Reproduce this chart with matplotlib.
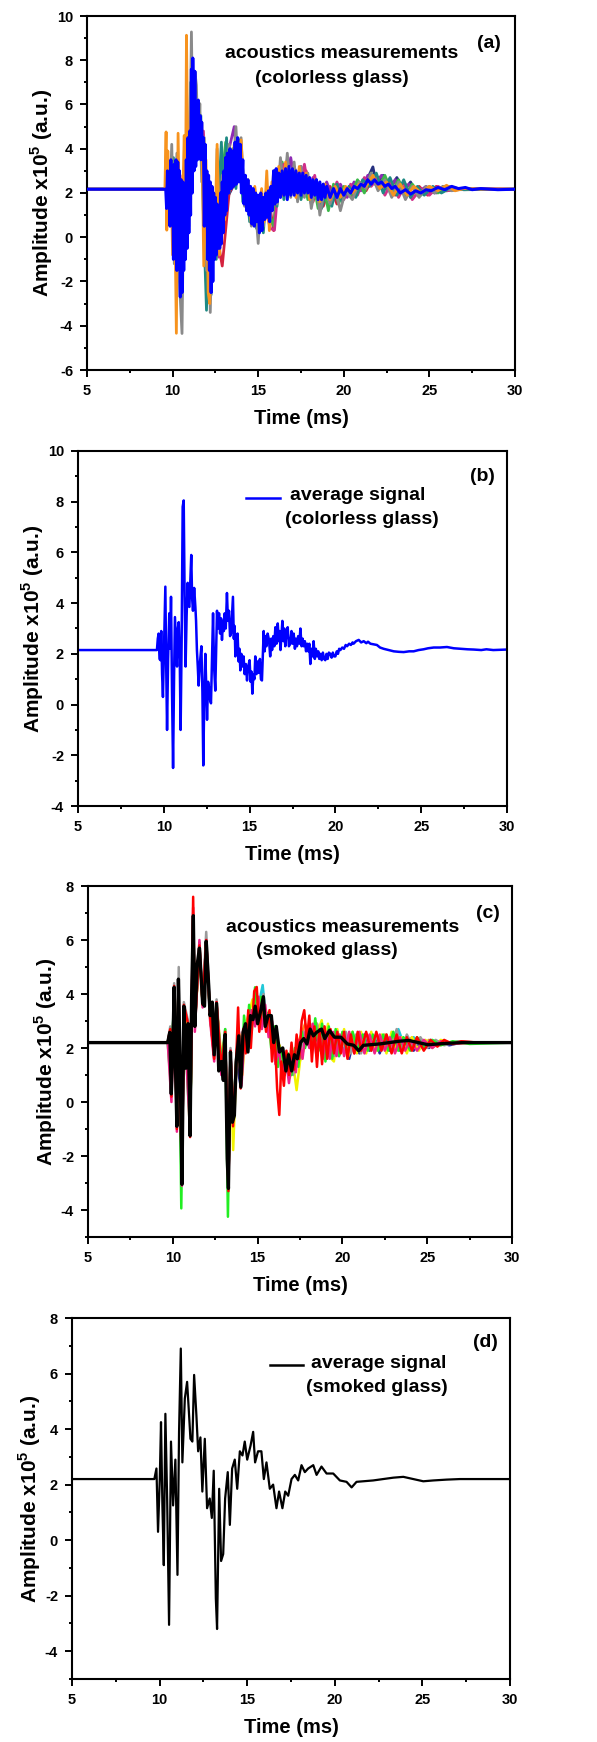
import matplotlib
matplotlib.use("Agg")
import matplotlib.pyplot as plt
from matplotlib.ticker import MultipleLocator
from matplotlib.lines import Line2D

plt.rcParams['font.family'] = ['Liberation Sans', 'DejaVu Sans']
plt.rcParams['font.weight'] = 'bold'
plt.rcParams['mathtext.fontset'] = 'custom'
plt.rcParams['mathtext.rm'] = 'Liberation Sans:bold'
plt.rcParams['mathtext.bf'] = 'Liberation Sans:bold'
plt.rcParams['axes.unicode_minus'] = False

# ---------------- data: (time ms, amplitude x1e5) ----------------
# (b) average signal, colorless glass
avg_colorless = [(5.0, 2.15), (9.60, 2.15), (9.65, 2.6), (9.70, 2.8), (9.75, 1.8), (9.80, 1.75), (9.85, 2.9),
                 (9.90, 1.2), (9.95, 0.3), (10.02, 2.4), (10.09, 4.65), (10.14, 1.5), (10.19, -1.0), (10.25, 1.8),
                 (10.32, 3.6), (10.37, 2.2), (10.42, 4.25), (10.48, 0.5), (10.54, -2.5), (10.60, 1.2),
                 (10.65, 3.45), (10.71, 2.5), (10.77, 1.5), (10.82, 3.0), (10.87, 3.25), (10.93, 1.8),
                 (10.98, -1.0), (11.04, 2.5), (11.10, 7.8), (11.16, 8.05), (11.21, 4.5), (11.27, 1.5),
                 (11.33, 3.5), (11.39, 4.8), (11.44, 3.9), (11.49, 3.85), (11.55, 5.0), (11.60, 5.9),
                 (11.65, 4.2), (11.70, 3.7), (11.77, 4.6), (11.84, 3.85), (11.88, 3.3), (11.93, 2.15),
                 (11.98, 1.5), (12.03, 0.75), (12.10, 1.6), (12.19, 2.3), (12.25, 0.5), (12.30, -2.4),
                 (12.36, 0.3), (12.42, 2.0), (12.47, 0.8), (12.52, -0.6), (12.58, 0.9), (12.63, 0.7),
                 (12.69, 0.2), (12.75, 0.05), (12.81, 1.8), (12.87, 3.6), (12.93, 1.5), (13.00, 0.55),
                 (13.05, 2.2), (13.10, 3.7), (13.16, 3.0), (13.22, 3.6), (13.28, 2.8), (13.34, 3.4),
                 (13.39, 2.55), (13.45, 3.3), (13.50, 2.9), (13.55, 3.6), (13.61, 3.0), (13.68, 4.4),
                 (13.74, 3.3), (13.80, 3.7), (13.86, 2.7), (13.92, 2.8), (13.97, 3.5), (14.03, 4.25),
                 (14.08, 2.6), (14.13, 3.1), (14.17, 1.9), (14.23, 2.6), (14.30, 2.8), (14.36, 1.7),
                 (14.41, 2.2), (14.46, 1.35), (14.52, 2.0), (14.58, 1.5), (14.65, 1.9), (14.71, 1.2),
                 (14.78, 1.6), (14.85, 0.95), (14.92, 1.5), (15.00, 1.75), (15.06, 0.9), (15.11, 1.3),
                 (15.16, 0.43), (15.22, 1.2), (15.28, 1.0), (15.33, 1.9), (15.40, 1.2), (15.47, 1.7),
                 (15.53, 1.25), (15.60, 1.8), (15.66, 1.0), (15.72, 0.95), (15.77, 1.9), (15.82, 2.9),
                 (15.88, 2.1), (15.93, 2.7), (15.98, 2.3), (16.05, 2.8), (16.13, 2.55), (16.20, 1.9),
                 (16.26, 2.6), (16.31, 2.15), (16.38, 2.7), (16.44, 2.3), (16.50, 3.05), (16.57, 2.4),
                 (16.64, 3.2), (16.70, 2.5), (16.75, 2.9), (16.80, 2.15), (16.86, 2.8), (16.91, 3.3),
                 (16.97, 2.5), (17.02, 3.0), (17.08, 2.3), (17.15, 2.9), (17.22, 3.05), (17.29, 2.3),
                 (17.37, 2.4), (17.44, 2.9), (17.50, 2.4), (17.57, 2.8), (17.64, 2.2), (17.70, 2.6),
                 (17.76, 2.3), (17.83, 2.7), (17.90, 2.4), (17.96, 3.0), (18.03, 2.3), (18.09, 2.6),
                 (18.15, 2.3), (18.22, 2.5), (18.29, 2.1), (18.35, 2.4), (18.42, 2.1), (18.48, 2.4),
                 (18.54, 1.6), (18.60, 2.2), (18.67, 1.9), (18.73, 2.5), (18.80, 1.8), (18.86, 2.2),
                 (18.93, 1.9), (19.00, 2.1), (19.06, 1.8), (19.12, 2.0), (19.20, 1.75), (19.27, 2.05),
                 (19.34, 1.8), (19.41, 1.75), (19.48, 2.0), (19.55, 1.8), (19.62, 2.05), (19.70, 2.0),
                 (19.78, 1.85), (19.85, 2.05), (19.92, 1.9), (20.00, 1.9), (20.08, 2.1), (20.15, 2.0),
                 (20.22, 2.2), (20.29, 2.15), (20.40, 2.25), (20.50, 2.2), (20.60, 2.35), (20.68, 2.3),
                 (20.80, 2.4), (20.90, 2.35), (21.00, 2.45), (21.06, 2.4), (21.20, 2.5), (21.36, 2.55),
                 (21.50, 2.45), (21.65, 2.5), (21.80, 2.42), (21.90, 2.48), (22.04, 2.4), (22.20, 2.38),
                 (22.42, 2.35), (22.60, 2.25), (22.81, 2.2), (23.10, 2.15), (23.40, 2.1), (23.70, 2.08),
                 (23.98, 2.07), (24.30, 2.1), (24.56, 2.1), (24.85, 2.15), (25.14, 2.18), (25.40, 2.22),
                 (25.73, 2.25), (26.10, 2.25), (26.50, 2.27), (26.90, 2.22), (27.28, 2.2), (27.70, 2.18),
                 (28.06, 2.17), (28.50, 2.15), (28.80, 2.18), (29.20, 2.15), (30.0, 2.17)]

# (d) average signal, smoked glass
avg_smoked = [(5.0, 2.2), (9.70, 2.2), (9.82, 2.58), (9.91, 0.3), (10.01, 2.2), (10.08, 4.25), (10.16, 1.25),
              (10.24, -0.9), (10.33, 4.55), (10.43, 1.5), (10.54, -3.05), (10.65, 3.55), (10.77, 1.25), (10.90, 2.9),
              (11.02, -1.25), (11.11, 3.9), (11.21, 6.9), (11.30, 2.8), (11.44, 5.1), (11.57, 5.7), (11.66, 4.75),
              (11.76, 3.65), (11.87, 3.55), (11.97, 5.95), (12.10, 4.5), (12.20, 3.2), (12.33, 3.7), (12.44, 1.75),
              (12.58, 3.65), (12.71, 1.15), (12.86, 1.5), (12.98, 0.8), (13.09, 2.5), (13.21, -2.1), (13.28, -3.2),
              (13.40, 1.85), (13.51, -0.75), (13.63, -0.5), (13.74, 1.5), (13.89, 2.45), (14.01, 0.55), (14.14, 2.58),
              (14.29, 2.9), (14.43, 1.85), (14.58, 3.2), (14.73, 3.05), (14.86, 3.55), (15.00, 2.9), (15.19, 3.4),
              (15.34, 3.9), (15.45, 2.8), (15.62, 3.2), (15.81, 3.2), (15.95, 2.2), (16.10, 2.8), (16.29, 1.85),
              (16.48, 2.0), (16.67, 1.15), (16.82, 1.75), (17.01, 1.15), (17.17, 1.75), (17.34, 1.6), (17.53, 2.2),
              (17.72, 2.35), (17.91, 2.15), (18.10, 2.7), (18.29, 2.45), (18.48, 2.58), (18.77, 2.7), (18.96, 2.35),
              (19.24, 2.65), (19.53, 2.4), (19.91, 2.4), (20.29, 2.15), (20.67, 2.1), (20.96, 1.9), (21.24, 2.1),
              (21.62, 2.12), (22.19, 2.15), (22.76, 2.2), (23.34, 2.25), (23.91, 2.28), (24.48, 2.2), (25.05, 2.12),
              (25.62, 2.15), (26.38, 2.18), (27.14, 2.2), (28.10, 2.2), (28.67, 2.2), (30.0, 2.2)]

# (a) individual measurements, colorless glass
meas_a_orange = [(5.0, 2.17), (9.55, 2.17), (9.62, 4.76), (9.66, 0.32), (9.72, 3.9), (9.80, 0.9), (9.90, 3.2),
                 (10.0, -0.8), (10.1, 3.0), (10.22, -4.34), (10.32, 4.7), (10.45, -1.5), (10.6, 2.0), (10.68, 4.6),
                 (10.75, 1.2), (10.81, 9.13), (10.9, 3.0), (11.0, 1.5), (11.1, 6.5), (11.25, 3.2), (11.4, 6.0),
                 (11.55, 3.8), (11.7, 5.2), (11.82, -1.3), (11.95, 3.5), (12.08, -2.5), (12.17, -3.0), (12.3, 2.2),
                 (12.45, -0.5), (12.6, 4.2), (12.75, -0.8), (12.9, 2.5), (13.05, 0.8), (13.2, 3.7), (13.4, 2.3),
                 (13.6, 4.2), (13.8, 2.8), (14.0, 4.4), (14.2, 1.5), (14.4, 2.6), (14.6, 0.6), (14.8, 2.3),
                 (15.0, 1.0), (15.2, 2.2), (15.35, 0.7), (15.5, 3.0), (15.65, 0.3), (15.8, 2.5), (16.0, 1.6),
                 (16.2, 3.2), (16.4, 1.9), (16.6, 3.4), (16.8, 2.0), (17.0, 3.1), (17.2, 1.8), (17.4, 3.2),
                 (17.6, 2.1), (17.8, 2.9), (18.0, 1.7), (18.3, 2.6), (18.6, 1.6), (18.9, 2.4), (19.2, 1.7),
                 (19.5, 2.3), (19.8, 1.8), (20.1, 2.3), (20.5, 2.0), (20.9, 2.4), (21.3, 2.3), (21.7, 2.8),
                 (22.1, 2.2), (22.5, 2.5), (22.9, 1.9), (23.3, 2.4), (23.7, 1.9), (24.1, 2.3), (24.5, 2.0),
                 (25.0, 2.3), (25.5, 2.1), (26.0, 2.35), (26.5, 2.1), (27.0, 2.2), (28.0, 2.17), (30.0, 2.17)]

meas_a_gray = [(5.0, 2.17), (9.6, 2.17), (9.7, 3.8), (9.8, 0.6), (9.95, 4.2), (10.1, -1.2), (10.25, 3.8),
               (10.4, -2.0), (10.55, -4.35), (10.65, 2.0), (10.8, 4.0), (10.95, 0.5), (11.1, 9.28), (11.2, 3.5),
               (11.3, 7.5), (11.39, 6.87), (11.5, 3.8), (11.59, 6.04), (11.7, 2.5), (11.85, 4.5), (11.98, -1.5),
               (12.1, 1.0), (12.2, -3.4), (12.35, 1.5), (12.5, -0.8), (12.6, 4.0), (12.75, -0.3), (12.9, 2.8),
               (13.1, 1.2), (13.3, 4.2), (13.5, 2.5), (13.7, 5.0), (13.85, 2.6), (14.0, 4.5), (14.2, 1.4),
               (14.4, 2.4), (14.6, 0.5), (14.8, 1.8), (15.0, -0.28), (15.15, 1.8), (15.3, 0.5), (15.5, 2.2),
               (15.7, 0.8), (15.9, 3.0), (16.1, 1.5), (16.3, 3.6), (16.5, 2.0), (16.7, 3.8), (16.9, 1.8),
               (17.1, 3.4), (17.3, 1.6), (17.5, 3.2), (17.7, 1.8), (17.9, 2.9), (18.1, 1.3), (18.4, 2.5),
               (18.6, 1.0), (18.9, 2.3), (19.2, 1.5), (19.5, 2.2), (19.8, 1.2), (20.1, 2.1), (20.5, 1.7),
               (20.9, 2.5), (21.3, 2.2), (21.6, 2.9), (22.0, 2.1), (22.4, 2.6), (22.8, 1.8), (23.2, 2.5),
               (23.6, 1.7), (24.0, 2.3), (24.4, 1.8), (24.8, 2.3), (25.3, 2.0), (25.8, 2.3), (26.3, 2.1),
               (27.0, 2.2), (30.0, 2.17)]

meas_a_teal = [(5.0, 2.17), (9.6, 2.17), (9.75, 2.8), (9.9, 0.8), (10.05, 3.6), (10.2, -0.5), (10.35, 3.0),
               (10.5, -1.5), (10.7, 3.5), (10.9, 0.8), (11.05, 7.0), (11.2, 3.0), (11.35, 6.5), (11.5, 3.6),
               (11.65, 5.5), (11.8, 1.0), (11.98, -3.3), (12.1, 0.5), (12.25, -2.6), (12.4, 1.8), (12.55, -1.0),
               (12.7, 2.0), (12.85, 4.3), (13.0, 1.5), (13.15, 4.5), (13.3, 2.0), (13.5, 4.0), (13.7, 2.2),
               (13.9, 4.4), (14.1, 1.6), (14.3, 2.5), (14.5, 0.7), (14.7, 2.1), (14.9, 0.4), (15.1, 1.8),
               (15.3, 0.2), (15.5, 2.3), (15.7, 1.0), (15.9, 2.6), (16.1, 1.4), (16.3, 3.3), (16.5, 1.7),
               (16.7, 3.5), (16.9, 2.0), (17.2, 3.0), (17.5, 1.7), (17.8, 2.8), (18.1, 1.5), (18.4, 2.6),
               (18.7, 1.3), (19.0, 2.2), (19.3, 1.4), (19.6, 2.4), (19.9, 1.6), (20.3, 2.3), (20.7, 1.8),
               (21.1, 2.6), (21.5, 2.3), (21.9, 2.9), (22.3, 2.0), (22.7, 2.7), (23.1, 1.9), (23.5, 2.6),
               (23.9, 1.8), (24.3, 2.3), (24.7, 1.9), (25.2, 2.3), (25.7, 2.0), (26.3, 2.25), (27.0, 2.15),
               (30.0, 2.17)]

meas_a_green = [(5.0, 2.17), (9.7, 2.17), (10.0, 2.5), (10.4, 0.5), (10.8, 3.0), (11.2, 5.0), (11.6, 4.0),
                (12.0, 1.0), (12.4, 0.0), (12.8, 2.0), (13.1, 4.3), (13.4, 2.4), (13.7, 4.1), (14.0, 2.6),
                (14.4, 1.5), (14.8, 0.9), (15.2, 0.8), (15.6, 1.2), (15.9, 0.5), (16.1, 2.0), (16.4, 3.4),
                (16.7, 2.2), (17.0, 3.1), (17.3, 1.9), (17.6, 2.9), (17.9, 1.7), (18.2, 2.6), (18.5, 1.3),
                (18.8, 2.4), (19.1, 1.2), (19.4, 2.4), (19.7, 1.5), (20.0, 2.3), (20.4, 1.9), (20.8, 2.6),
                (21.2, 2.0), (21.6, 2.9), (22.0, 2.2), (22.4, 2.8), (22.8, 2.0), (23.2, 2.6), (23.6, 1.9),
                (24.0, 2.4), (24.5, 1.9), (25.0, 2.3), (25.5, 2.0), (26.0, 2.3), (27.0, 2.15), (30.0, 2.17)]

meas_a_magenta = [(5.0, 2.17), (9.7, 2.17), (10.0, 3.0), (10.3, -0.5), (10.6, 2.8), (10.9, 0.5), (11.2, 6.0),
                  (11.5, 4.0), (11.8, 4.8), (12.1, 0.0), (12.4, 1.2), (12.7, -0.9), (13.0, 2.6), (13.3, 3.2),
                  (13.6, 3.0), (13.9, 4.2), (14.2, 2.0), (14.5, 1.0), (14.8, 1.6), (15.1, 0.6), (15.4, 1.5),
                  (15.7, 0.4), (15.95, 0.32), (16.2, 2.6), (16.5, 3.3), (16.8, 2.1), (17.1, 3.1), (17.4, 2.2),
                  (17.7, 3.3), (18.0, 1.9), (18.3, 2.8), (18.6, 1.5), (18.9, 2.1), (19.2, 1.6), (19.6, 2.5),
                  (20.0, 1.7), (20.4, 2.4), (20.8, 1.9), (21.2, 2.7), (21.6, 2.3), (22.0, 2.7), (22.4, 1.9),
                  (22.8, 2.5), (23.2, 1.8), (23.6, 2.4), (24.0, 1.7), (24.5, 2.2), (25.0, 1.9), (25.5, 2.3),
                  (26.0, 2.1), (27.0, 2.2), (30.0, 2.17)]

meas_a_purple = [(5.0, 2.17), (9.7, 2.17), (10.5, 2.0), (11.0, 3.0), (11.5, 4.5), (12.0, 2.0), (12.5, 1.0),
                 (13.0, 3.0), (13.6, 5.0), (13.8, 3.0), (14.2, 2.2), (14.6, 1.2), (15.0, 1.6), (15.4, 0.8),
                 (15.8, 2.0), (16.2, 3.0), (16.6, 2.4), (16.9, 3.6), (17.2, 2.2), (17.5, 3.2), (17.9, 2.0),
                 (18.2, 2.7), (18.6, 1.8), (19.0, 2.5), (19.4, 1.7), (19.8, 2.4), (20.2, 1.8), (20.6, 2.5),
                 (21.0, 2.1), (21.4, 2.8), (21.8, 2.4), (22.2, 2.8), (22.6, 2.1), (23.0, 2.6), (23.4, 2.0),
                 (23.8, 2.4), (24.3, 2.0), (24.8, 2.3), (25.4, 2.0), (26.0, 2.3), (27.0, 2.15), (30.0, 2.17)]

meas_a_red = [(5.0, 2.17), (9.7, 2.17), (10.3, 1.5), (11.0, 2.5), (11.4, 4.5), (11.8, 3.8), (12.2, 1.0),
              (12.5, 0.5), (12.9, -1.3), (13.3, 2.0), (14.0, 3.0), (14.6, 1.5), (15.2, 1.2), (15.6, 1.8),
              (15.9, 0.3), (16.1, 2.3), (16.4, 3.0), (16.8, 2.3), (17.1, 3.2), (17.5, 2.1), (17.8, 3.0),
              (18.2, 1.6), (18.5, 2.4), (18.8, 1.4), (19.2, 2.3), (19.6, 1.5), (20.0, 2.2), (20.5, 1.8),
              (20.9, 2.5), (21.3, 2.1), (21.7, 2.7), (22.2, 2.2), (22.6, 2.6), (23.0, 1.9), (23.5, 2.5),
              (23.9, 1.8), (24.4, 2.3), (24.9, 1.9), (25.4, 2.3), (26.0, 2.1), (27.0, 2.2), (30.0, 2.17)]

meas_a_navy = [(5.0, 2.17), (9.7, 2.17), (10.5, 2.0), (11.3, 4.5), (11.8, 3.8), (12.3, 1.0), (13.0, 1.5),
               (14.0, 3.0), (15.0, 1.2), (16.0, 2.5), (17.0, 2.6), (18.0, 2.2), (19.0, 1.9), (20.0, 2.0),
               (20.8, 2.3), (21.3, 2.5), (21.7, 3.18), (21.9, 2.4), (22.3, 2.8), (22.7, 2.2), (23.1, 2.7),
               (23.5, 2.1), (23.9, 2.5), (24.3, 1.9), (24.8, 2.2), (25.3, 2.0), (25.8, 2.3), (26.5, 2.15),
               (30.0, 2.17)]

meas_a_blue = [(5.0, 2.17), (9.6, 2.17), (9.65, 1.3), (9.7, 3.0), (9.75, 1.4), (9.8, 2.9), (9.85, 0.5),
               (9.9, 3.5), (9.95, 0.8), (10.0, 3.2), (10.05, -1.0), (10.1, 3.3), (10.15, -0.5), (10.2, 3.5),
               (10.25, -1.5), (10.3, 3.4), (10.35, -1.0), (10.4, 3.0), (10.45, -2.7), (10.5, 2.6), (10.55, -2.5),
               (10.6, 2.5), (10.65, -1.5), (10.7, 2.4), (10.75, -1.0), (10.8, 3.5), (10.85, -0.5), (10.9, 4.5),
               (10.95, 0.2), (11.0, 4.8), (11.05, 1.0), (11.1, 7.6), (11.15, 2.0), (11.18, 8.1), (11.25, 3.0),
               (11.3, 7.5), (11.35, 3.2), (11.4, 6.0), (11.45, 3.5), (11.5, 6.2), (11.55, 3.6), (11.6, 5.5),
               (11.65, 3.5), (11.7, 5.2), (11.75, 3.6), (11.8, 4.5), (11.85, 0.5), (11.9, 4.2), (11.95, 0.8),
               (12.0, 3.0), (12.05, -1.0), (12.1, 2.8), (12.15, -1.5), (12.2, 2.5), (12.25, -2.5), (12.3, 2.3),
               (12.35, -2.0), (12.4, 2.0), (12.45, -1.0), (12.5, 1.8), (12.55, -0.8), (12.6, 1.5), (12.65, -0.5),
               (12.7, 1.4), (12.75, -0.5), (12.8, 2.0), (12.85, -0.3), (12.9, 2.5), (12.95, 0.2), (13.0, 3.0),
               (13.05, 1.0), (13.1, 3.6), (13.15, 1.2), (13.2, 3.8), (13.27, 2.0), (13.35, 4.0), (13.42, 2.2),
               (13.5, 3.9), (13.57, 2.3), (13.65, 4.3), (13.72, 2.4), (13.8, 4.5), (13.87, 2.5), (13.95, 4.2),
               (14.02, 2.0), (14.1, 3.5), (14.17, 1.5), (14.25, 2.8), (14.32, 1.2), (14.4, 2.6), (14.47, 1.0),
               (14.55, 2.3), (14.62, 0.6), (14.7, 2.2), (14.77, 0.5), (14.85, 2.0), (14.92, 0.7), (15.0, 1.9),
               (15.07, 0.2), (15.15, 2.0), (15.22, 0.3), (15.3, 1.8), (15.37, 0.8), (15.45, 2.0), (15.52, 0.9),
               (15.6, 2.1), (15.67, 0.7), (15.75, 2.3), (15.82, 1.2), (15.9, 3.0), (15.97, 1.5), (16.05, 3.1),
               (16.12, 1.6), (16.2, 2.9), (16.3, 1.8), (16.4, 3.0), (16.5, 1.9), (16.6, 3.1), (16.7, 1.7),
               (16.8, 3.2), (16.9, 1.9), (17.0, 3.1), (17.1, 1.9), (17.2, 3.0), (17.3, 2.0), (17.4, 2.9),
               (17.5, 1.9), (17.6, 2.9), (17.7, 2.0), (17.8, 2.8), (17.9, 2.0), (18.0, 2.7), (18.1, 1.8),
               (18.2, 2.6), (18.3, 1.9), (18.4, 2.6), (18.5, 1.7), (18.6, 2.5), (18.7, 1.7), (18.8, 2.4),
               (18.9, 1.8), (19.0, 2.3), (19.2, 1.8), (19.4, 2.2), (19.6, 1.8), (19.8, 2.2), (20.0, 1.9),
               (20.2, 2.2), (20.4, 2.0), (20.6, 2.3), (20.8, 2.2), (21.0, 2.4), (21.2, 2.3), (21.4, 2.6),
               (21.6, 2.4), (21.8, 2.6), (22.0, 2.4), (22.2, 2.5), (22.4, 2.3), (22.6, 2.4), (22.8, 2.2),
               (23.0, 2.3), (23.3, 2.0), (23.6, 2.15), (23.9, 1.95), (24.2, 2.1), (24.5, 2.0), (24.8, 2.15),
               (25.1, 2.1), (25.5, 2.25), (25.9, 2.15), (26.3, 2.3), (26.7, 2.2), (27.1, 2.25), (27.5, 2.15),
               (28.0, 2.2), (29.0, 2.15), (30.0, 2.17)]

# (c) individual measurements, smoked glass
meas_c_red = [(5.0, 2.2), (9.7, 2.2), (9.85, 2.7), (9.92, 0.2), (10.08, 4.3), (10.24, -1.0), (10.33, 4.5),
              (10.54, -3.0), (10.65, 3.6), (10.9, 2.9), (11.02, -1.3), (11.2, 7.6), (11.3, 2.8), (11.57, 5.8),
              (11.76, 3.6), (11.97, 6.0), (12.2, 3.2), (12.44, 1.6), (12.58, 3.7), (12.86, 1.2), (13.09, 2.6),
              (13.28, -3.3), (13.4, 1.9), (13.55, -0.9), (13.74, 1.6), (13.85, 3.5), (14.0, 0.5), (14.15, 2.7),
              (14.3, 1.8), (14.45, 3.4), (14.6, 2.0), (14.8, 4.1), (14.95, 4.26), (15.1, 2.6), (15.3, 3.8),
              (15.5, 2.6), (15.7, 3.4), (15.85, 1.5), (16.0, 2.6), (16.15, 0.5), (16.28, -0.48), (16.4, 1.5),
              (16.55, 0.6), (16.7, 1.9), (16.85, 1.0), (17.0, 2.2), (17.15, 1.2), (17.3, 2.5), (17.45, 1.6),
              (17.6, 3.0), (17.75, 3.4), (17.9, 2.3), (18.05, 3.2), (18.2, 1.5), (18.35, 2.8), (18.5, 1.3),
              (18.65, 2.7), (18.8, 1.4), (18.95, 2.8), (19.1, 1.6), (19.3, 2.7), (19.5, 1.8), (19.7, 2.6),
              (19.9, 1.8), (20.1, 2.6), (20.3, 1.6), (20.5, 2.5), (20.7, 1.8), (20.9, 2.6), (21.1, 1.9),
              (21.4, 2.6), (21.7, 1.9), (22.0, 2.6), (22.3, 1.9), (22.6, 2.5), (22.9, 1.8), (23.2, 2.5),
              (23.5, 1.8), (23.8, 2.4), (24.1, 1.9), (24.4, 2.4), (24.8, 1.9), (25.2, 2.3), (25.6, 2.05),
              (26.0, 2.3), (26.5, 2.15), (27.0, 2.25), (28.0, 2.2), (30.0, 2.2)]

meas_c_green = [(5.0, 2.2), (9.7, 2.2), (9.9, 0.5), (10.08, 4.2), (10.24, -0.8), (10.33, 4.4), (10.5, -3.94),
                (10.65, 3.5), (11.02, -1.2), (11.2, 6.8), (11.3, 2.9), (11.57, 5.9), (11.76, 3.6), (11.97, 5.9),
                (12.2, 3.1), (12.44, 1.8), (12.58, 3.6), (12.86, 1.4), (13.09, 2.7), (13.25, -4.25), (13.4, 1.8),
                (13.55, -0.6), (13.74, 1.5), (13.9, 2.4), (14.05, 0.7), (14.2, 3.2), (14.35, 2.2), (14.5, 3.6),
                (14.65, 2.6), (14.85, 4.25), (15.0, 3.0), (15.2, 3.9), (15.4, 2.9), (15.6, 3.3), (15.8, 2.0),
                (16.0, 2.8), (16.2, 1.3), (16.4, 2.0), (16.6, 1.0), (16.8, 1.8), (17.0, 1.0), (17.2, 2.0),
                (17.4, 1.3), (17.6, 2.6), (17.8, 2.0), (18.0, 2.7), (18.2, 2.1), (18.4, 3.1), (18.6, 1.9),
                (18.8, 2.9), (19.0, 1.5), (19.2, 2.8), (19.4, 1.6), (19.6, 2.7), (19.8, 1.7), (20.0, 2.6),
                (20.3, 1.8), (20.6, 2.6), (20.9, 1.9), (21.2, 2.5), (21.5, 1.9), (21.8, 2.5), (22.1, 1.9),
                (22.4, 2.5), (22.7, 1.9), (23.0, 2.6), (23.3, 1.9), (23.6, 2.4), (24.0, 1.9), (24.4, 2.4),
                (24.8, 2.0), (25.3, 2.3), (25.8, 2.1), (26.5, 2.25), (27.5, 2.15), (30.0, 2.2)]

meas_c_yellow = [(5.0, 2.2), (9.7, 2.2), (9.82, 2.5), (9.91, 0.4), (10.08, 4.1), (10.24, -0.8), (10.33, 4.3),
                 (10.54, -2.8), (10.65, 3.4), (10.9, 2.8), (11.02, -1.1), (11.21, 6.5), (11.3, 2.8), (11.57, 5.6),
                 (11.76, 3.6), (11.97, 5.8), (12.2, 3.2), (12.44, 1.7), (12.58, 3.6), (12.98, 0.9), (13.09, 2.4),
                 (13.28, -3.0), (13.4, 1.6), (13.56, -1.78), (13.74, 1.3), (13.95, 2.5), (14.1, 1.0), (14.3, 2.9),
                 (14.5, 3.3), (14.7, 3.8), (14.9, 3.0), (15.1, 3.6), (15.3, 3.0), (15.5, 3.4), (15.7, 2.4),
                 (15.9, 2.8), (16.1, 1.6), (16.3, 2.1), (16.5, 1.2), (16.7, 1.6), (16.9, 0.9), (17.1, 1.4),
                 (17.3, 0.44), (17.5, 1.5), (17.7, 1.9), (17.9, 2.4), (18.1, 2.0), (18.3, 2.8), (18.5, 2.5),
                 (18.78, 3.03), (18.95, 2.0), (19.15, 2.9), (19.35, 1.6), (19.5, 1.5), (19.7, 2.7), (19.9, 1.8),
                 (20.1, 2.7), (20.35, 1.7), (20.6, 2.6), (20.85, 1.8), (21.1, 2.6), (21.4, 1.8), (21.7, 2.6),
                 (22.0, 1.9), (22.3, 2.5), (22.6, 1.8), (22.9, 2.6), (23.2, 1.9), (23.5, 2.4), (23.8, 1.8),
                 (24.1, 2.4), (24.5, 1.9), (24.9, 2.3), (25.3, 2.0), (25.8, 2.3), (26.5, 2.15), (27.5, 2.2),
                 (30.0, 2.2)]

meas_c_magenta = [(5.0, 2.2), (9.7, 2.2), (9.92, 0.0), (10.08, 4.1), (10.24, -1.1), (10.33, 4.4), (10.54, -3.1),
                  (10.65, 3.5), (11.02, -1.2), (11.2, 7.2), (11.3, 2.6), (11.57, 6.0), (11.76, 3.5),
                  (11.97, 6.0), (12.2, 3.0), (12.44, 1.5), (12.58, 3.7), (12.86, 1.0), (13.09, 2.4),
                  (13.28, -3.2), (13.4, 1.9), (13.55, -0.7), (13.74, 1.4), (13.9, 2.6), (14.05, 0.6),
                  (14.25, 2.7), (14.45, 2.2), (14.65, 3.4), (14.85, 2.8), (15.05, 3.9), (15.25, 2.7),
                  (15.45, 3.6), (15.65, 2.4), (15.85, 3.0), (16.05, 1.4), (16.25, 2.0), (16.45, 0.9),
                  (16.65, 1.7), (16.85, 0.7), (17.05, 1.7), (17.25, 1.1), (17.45, 2.3), (17.65, 1.6),
                  (17.85, 2.7), (18.05, 2.0), (18.25, 2.9), (18.45, 1.8), (18.65, 2.6), (18.85, 1.6),
                  (19.05, 2.6), (19.25, 1.6), (19.45, 2.6), (19.65, 1.7), (19.85, 2.5), (20.1, 1.7), (20.4, 2.6),
                  (20.7, 1.8), (21.0, 2.6), (21.3, 1.8), (21.6, 2.5), (21.9, 1.8), (22.2, 2.5), (22.5, 1.9),
                  (22.8, 2.4), (23.1, 1.8), (23.4, 2.4), (23.7, 1.9), (24.0, 2.3), (24.4, 1.9), (24.8, 2.3),
                  (25.3, 2.0), (25.8, 2.25), (26.5, 2.15), (27.5, 2.2), (30.0, 2.2)]

meas_c_gray = [(5.0, 2.2), (9.7, 2.2), (9.85, 2.8), (9.92, 0.3), (10.08, 4.4), (10.24, -0.9), (10.35, 5.0),
               (10.54, -3.0), (10.65, 3.7), (10.9, 3.0), (11.02, -1.0), (11.2, 7.0), (11.3, 2.9), (11.57, 5.9),
               (11.76, 3.7), (11.97, 6.3), (12.2, 3.4), (12.44, 1.8), (12.58, 3.8), (12.86, 1.4), (13.09, 2.7),
               (13.28, -3.0), (13.4, 2.0), (13.55, -0.5), (13.74, 1.7), (13.9, 2.6), (14.05, 0.8), (14.2, 2.8),
               (14.4, 2.4), (14.6, 3.4), (14.8, 3.0), (15.0, 3.6), (15.2, 3.1), (15.35, 4.0), (15.5, 2.9),
               (15.7, 3.3), (15.9, 2.3), (16.1, 2.8), (16.3, 1.6), (16.5, 2.0), (16.7, 1.1), (16.9, 1.6),
               (17.1, 1.0), (17.3, 1.9), (17.5, 1.6), (17.7, 2.6), (17.9, 2.1), (18.1, 2.9), (18.3, 2.2),
               (18.5, 2.9), (18.7, 2.0), (18.9, 2.8), (19.1, 1.8), (19.3, 2.6), (19.5, 1.7), (19.7, 2.6),
               (19.9, 1.9), (20.2, 2.6), (20.5, 1.8), (20.8, 2.5), (21.1, 1.8), (21.4, 2.5), (21.7, 1.9),
               (22.0, 2.5), (22.3, 1.9), (22.6, 2.5), (22.9, 2.0), (23.2, 2.7), (23.5, 1.9), (23.8, 2.5),
               (24.2, 2.0), (24.6, 2.4), (25.0, 2.0), (25.5, 2.3), (26.0, 2.1), (26.8, 2.25), (28.0, 2.2),
               (30.0, 2.2)]

meas_c_navy = [(5.0, 2.2), (9.7, 2.2), (9.82, 2.5), (9.91, 0.4), (10.08, 4.2), (10.24, -0.8), (10.33, 4.4),
               (10.54, -2.9), (10.65, 3.5), (10.9, 2.8), (11.02, -1.1), (11.21, 6.8), (11.3, 2.9), (11.57, 5.7),
               (11.76, 3.7), (11.97, 5.9), (12.2, 3.3), (12.44, 1.7), (12.58, 3.6), (12.86, 1.4), (13.09, 2.5),
               (13.28, -3.1), (13.4, 1.9), (13.55, -0.6), (13.74, 1.5), (14.0, 0.6), (14.2, 2.7), (14.6, 3.3),
               (15.0, 3.4), (15.4, 3.3), (15.8, 2.6), (16.2, 1.8), (16.6, 1.3), (17.0, 1.5), (17.4, 2.0),
               (17.8, 2.4), (18.2, 2.6), (18.6, 2.2), (18.9, 2.7), (19.2, 1.7), (19.5, 2.4), (19.8, 1.7),
               (20.1, 2.4), (20.4, 1.6), (20.7, 2.4), (21.0, 1.8), (21.3, 2.5), (21.6, 1.9), (21.9, 2.4),
               (22.2, 1.8), (22.5, 2.4), (22.8, 1.9), (23.1, 2.4), (23.4, 1.9), (23.8, 2.3), (24.2, 1.9),
               (24.6, 2.3), (25.1, 2.0), (25.6, 2.25), (26.3, 2.1), (27.0, 2.2), (30.0, 2.2)]

meas_c_cyan = [(5.0, 2.2), (9.7, 2.2), (9.82, 2.6), (9.91, 0.3), (10.08, 4.3), (10.24, -0.9), (10.33, 4.5),
               (10.54, -3.0), (10.65, 3.5), (10.9, 2.9), (11.02, -1.2), (11.21, 6.9), (11.3, 2.8), (11.57, 5.8),
               (11.76, 3.6), (11.97, 6.0), (12.2, 3.2), (12.44, 1.7), (12.58, 3.6), (12.86, 1.4), (13.09, 2.5),
               (13.28, -3.1), (13.4, 1.8), (13.55, -0.6), (13.74, 1.5), (14.0, 1.5), (14.6, 3.2), (15.0, 3.4),
               (15.3, 4.33), (15.5, 3.0), (16.0, 2.6), (16.4, 1.5), (16.8, 1.3), (17.2, 1.8), (17.6, 2.2),
               (18.0, 2.5), (18.4, 2.3), (18.8, 2.6), (19.2, 2.0), (19.6, 2.4), (20.0, 1.9), (20.5, 2.4),
               (21.0, 2.0), (21.5, 2.4), (22.0, 2.0), (22.5, 2.4), (23.0, 2.0), (23.3, 2.7), (23.7, 2.0),
               (24.2, 2.4), (24.7, 2.0), (25.2, 2.3), (26.0, 2.15), (27.0, 2.2), (30.0, 2.2)]

meas_c_orange = [(5.0, 2.2), (9.7, 2.2), (9.82, 2.6), (9.91, 0.4), (10.08, 4.2), (10.24, -0.8), (10.33, 4.5),
                 (10.54, -2.9), (10.65, 3.5), (10.9, 2.9), (11.02, -1.1), (11.21, 6.8), (11.3, 2.9), (11.57, 5.7),
                 (11.76, 3.6), (11.97, 5.8), (12.2, 3.2), (12.44, 1.7), (12.58, 3.6), (12.86, 1.4), (13.09, 2.5),
                 (13.28, -3.0), (13.4, 1.8), (13.55, -0.6), (13.8, 1.6), (14.3, 2.9), (14.8, 3.4), (15.3, 3.2),
                 (15.8, 2.9), (16.2, 1.8), (16.6, 1.4), (17.0, 1.6), (17.4, 2.2), (17.8, 2.9), (18.1, 2.5),
                 (18.5, 2.9), (18.9, 2.1), (19.3, 2.6), (19.7, 1.9), (20.1, 2.5), (20.5, 1.9), (20.9, 2.5),
                 (21.3, 2.0), (21.7, 2.5), (22.1, 2.0), (22.5, 2.5), (22.9, 2.0), (23.3, 2.4), (23.7, 2.0),
                 (24.1, 2.4), (24.6, 2.0), (25.1, 2.3), (25.7, 2.1), (26.5, 2.2), (30.0, 2.2)]

x_ticks = [5, 10, 15, 20, 25, 30]
y_ticks_a = [-6, -4, -2, 0, 2, 4, 6, 8, 10]
y_ticks_b = [-4, -2, 0, 2, 4, 6, 8, 10]
y_ticks_cd = [-4, -2, 0, 2, 4, 6, 8]

# ---------------- figure ----------------
W, H = 597, 1742
fig = plt.figure(figsize=(W / 100, H / 100), dpi=100)


def make_axes(l, r, t, b):
    return fig.add_axes([l / W, 1 - b / H, (r - l) / W, (b - t) / H])


def draw(ax, pts, color, lw, z=2):
    xs = [p[0] for p in pts]
    ys = [p[1] for p in pts]
    ax.plot(xs, ys, color=color, lw=lw, zorder=z)


def style(ax, ylim, yticks):
    ax.set_xlim(5, 30)
    ax.set_ylim(*ylim)
    ax.set_xticks(x_ticks)
    ax.set_yticks(yticks)
    ax.xaxis.set_minor_locator(MultipleLocator(2.5))
    ax.yaxis.set_minor_locator(MultipleLocator(1))
    ax.tick_params(which='both', direction='out', top=False, right=False, width=1.4)
    ax.tick_params(which='major', length=5, labelsize=10.5, pad=5)
    ax.tick_params(which='minor', length=2.5)
    for s in ax.spines.values():
        s.set_linewidth(1.5)
    for lab in ax.get_xticklabels() + ax.get_yticklabels():
        lab.set_fontweight('bold')
    ax.set_xlabel('Time (ms)', fontsize=14.5, fontweight='bold', labelpad=8)
    ax.set_ylabel(r'Amplitude x10$^{\mathbf{5}}$ (a.u.)', fontsize=15, fontweight='bold', labelpad=1)


# (a)
ax = make_axes(87, 515, 16, 370)
lw_a = 2.0
for pts, c in [(meas_a_navy, '#26307f'), (meas_a_red, '#d4213d'), (meas_a_purple, '#8e2bb5'),
               (meas_a_green, '#3cb84a'), (meas_a_magenta, '#d02f8a'), (meas_a_teal, '#1f8a84'),
               (meas_a_gray, '#8a8a8a'), (meas_a_orange, '#f7931e')]:
    draw(ax, pts, c, lw_a)
draw(ax, meas_a_blue, '#0000ff', 2.2, z=3)
style(ax, (-6, 10), y_ticks_a)
ax.text(19.9, 8.3, 'acoustics measurements', ha='center', va='center', fontsize=14, fontweight='bold')
ax.text(19.3, 7.17, '(colorless glass)', ha='center', va='center', fontsize=14, fontweight='bold')
ax.text(28.45, 8.75, '(a)', ha='center', va='center', fontsize=14, fontweight='bold')

# (b)
ax = make_axes(78, 507, 451, 806)
draw(ax, avg_colorless, '#0000ff', 1.8)
style(ax, (-4, 10), y_ticks_b)
ax.add_line(Line2D([0.392, 0.472], [0.869, 0.869], transform=ax.transAxes, color='#0000ff', lw=1.8))
ax.text(17.37, 8.26, 'average signal', ha='left', va='center', fontsize=14, fontweight='bold')
ax.text(17.08, 7.28, '(colorless glass)', ha='left', va='center', fontsize=14, fontweight='bold')
ax.text(28.58, 8.99, '(b)', ha='center', va='center', fontsize=14, fontweight='bold')

# (c)
ax = make_axes(88, 512, 886, 1237)
for pts, c in [(meas_c_orange, '#ff8c1a'), (meas_c_cyan, '#22c8d8'), (meas_c_navy, '#2a2aa0'),
               (meas_c_yellow, '#f2f200'), (meas_c_gray, '#9a9a9a'), (meas_c_green, '#22ee22'),
               (meas_c_magenta, '#f0208a'), (meas_c_red, '#ff0000')]:
    draw(ax, pts, c, 1.8)
draw(ax, avg_smoked, '#000000', 2.4, z=3)
style(ax, (-5, 8), y_ticks_cd)
ax.text(20.02, 6.48, 'acoustics measurements', ha='center', va='center', fontsize=14, fontweight='bold')
ax.text(19.11, 5.6, '(smoked glass)', ha='center', va='center', fontsize=14, fontweight='bold')
ax.text(28.56, 6.98, '(c)', ha='center', va='center', fontsize=14, fontweight='bold')

# (d)
ax = make_axes(72, 510, 1318, 1679)
draw(ax, avg_smoked, '#000000', 1.6)
style(ax, (-5, 8), y_ticks_cd)
ax.add_line(Line2D([0.452, 0.528], [0.87, 0.87], transform=ax.transAxes, color='#000000', lw=1.8))
ax.text(18.67, 6.35, 'average signal', ha='left', va='center', fontsize=14, fontweight='bold')
ax.text(18.35, 5.48, '(smoked glass)', ha='left', va='center', fontsize=14, fontweight='bold')
ax.text(28.57, 7.13, '(d)', ha='center', va='center', fontsize=14, fontweight='bold')

fig.savefig('out.png', dpi=100)
